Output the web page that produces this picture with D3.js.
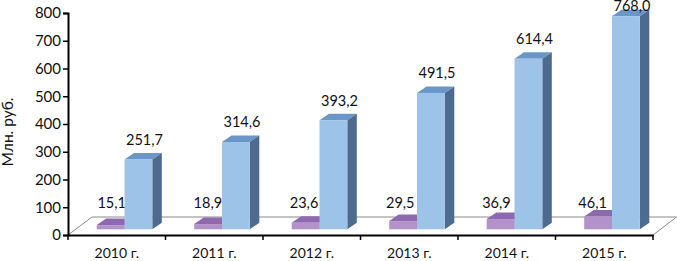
<!DOCTYPE html>
<html>
<head>
<meta charset="utf-8">
<script src="https://cdn.jsdelivr.net/npm/d3@7/dist/d3.min.js"></script>
<style>
  html, body { margin: 0; padding: 0; background: #fff; }
  svg { display: block; }
  text { font-family: Lato, "Open Sans", sans-serif; fill: #111; }
</style>
</head>
<body>
<svg width="677" height="261"></svg>
<script>
var categories = ["2010 г.", "2011 г.", "2012 г.", "2013 г.", "2014 г.", "2015 г."];
var seriesNames = ["small", "large"];
var smallValues = [15.1, 18.9, 23.6, 29.5, 36.9, 46.1];
var largeValues = [251.7, 314.6, 393.2, 491.5, 614.4, 768.0];
var yTicks = [0, 100, 200, 300, 400, 500, 600, 700, 800];

var svg = d3.select("svg");
var plotLeft = 68, plotRight = 653, plotTop = 13, plotBottom = 235;
var depthX = 9.5, depthY = 6.5;   // bar depth
var wallX = 24, wallY = 18;       // floor depth
var liftY = 5.7;                  // bars stand a bit behind the front edge

var colors = {
  small: { front: "#b392cc", top: "#8f69b0", side: "#7a5a99" },
  large: { front: "#9dc4e8", top: "#6a96c8", side: "#4d6b8e" }
};

var x = d3.scaleBand().domain(categories).range([plotLeft, plotRight]);
var xInner = d3.scaleBand().domain(seriesNames).range([28.7, 84.3]);
var y = d3.scaleLinear().domain([0, 800]).range([plotBottom, plotTop]);
// the small labels sit on one line and step a little tighter than the bars
var xSmallLabel = d3.scalePoint().domain(categories).range([111.7, 592.6]);
var comma = d3.formatLocale({ decimal: ",", thousands: " ", grouping: [3], currency: ["", ""] }).format(".1f");

// floor
svg.append("path")
  .attr("d", d3.line()([[plotLeft, plotBottom], [plotLeft + wallX, plotBottom - wallY], [plotRight + wallX - 0.5, plotBottom - wallY], [plotRight, plotBottom]]))
  .attr("fill", "#fff")
  .attr("stroke", "#8a8a8a")
  .attr("stroke-width", 1);

function drawSeries(name, values) {
  var c = colors[name];
  var g = svg.append("g").attr("class", "series-" + name);
  var bars = g.selectAll("g")
    .data(categories.map(function(d, i) { return { cat: d, value: values[i] }; }))
    .enter().append("g");

  function x0(d) { return x(d.cat) + xInner(name); }
  function x1(d) { return x0(d) + xInner.bandwidth(); }
  function yTop(d) { return y(d.value) - liftY; }
  var yBase = y(0) - liftY;

  bars.append("path")
    .attr("fill", c.top)
    .attr("d", function(d) {
      return d3.line()([[x0(d), yTop(d)], [x0(d) + depthX, yTop(d) - depthY], [x1(d) + depthX, yTop(d) - depthY], [x1(d), yTop(d)]]) + "Z";
    });
  bars.append("path")
    .attr("fill", c.side)
    .attr("d", function(d) {
      return d3.line()([[x1(d), yTop(d)], [x1(d) + depthX, yTop(d) - depthY], [x1(d) + depthX, yBase - depthY], [x1(d), yBase]]) + "Z";
    });
  bars.append("rect")
    .attr("fill", c.front)
    .attr("x", x0)
    .attr("y", yTop)
    .attr("width", xInner.bandwidth())
    .attr("height", function(d) { return yBase - yTop(d); });
  bars.append("text")
    .attr("x", function(d) { return name == "small" ? xSmallLabel(d.cat) : x0(d) + 20; })
    .attr("y", function(d) {
      if (name == "small") return y(100) + 1;
      return Math.max(11, yTop(d) - depthY - 8);   // top label is held inside the picture
    })
    .attr("text-anchor", "middle")
    .attr("font-size", 14.5)
    .text(function(d) { return comma(d.value); });
}
drawSeries("small", smallValues);
drawSeries("large", largeValues);

// axes
var yAxis = svg.append("g")
  .attr("transform", "translate(" + plotLeft + ",0)")
  .call(d3.axisLeft(y).tickValues(yTicks).tickSize(5).tickPadding(2));
yAxis.selectAll("text").attr("font-size", 15);

var xAxis = svg.append("g")
  .attr("transform", "translate(0," + plotBottom + ")")
  .call(d3.axisBottom(x).tickSize(0).tickPadding(13));
xAxis.selectAll("text").attr("font-size", 14);
xAxis.selectAll(".edge")
  .data(categories.concat(["end"]))
  .enter().append("line")
  .attr("class", "edge")
  .attr("x1", function(d) { return d == "end" ? plotRight : x(d); })
  .attr("x2", function(d) { return d == "end" ? plotRight : x(d); })
  .attr("y1", 0)
  .attr("y2", 5)
  .attr("stroke", "#000")
  .attr("stroke-width", 1.5);

svg.selectAll(".domain").attr("stroke", "#000").attr("stroke-width", 2);
svg.selectAll(".tick line").attr("stroke", "#000").attr("stroke-width", 1.5);
svg.selectAll(".tick text").attr("fill", "#111").attr("font-family", "Lato");

svg.append("text")
  .attr("transform", "translate(13,132) rotate(-90)")
  .attr("text-anchor", "middle")
  .attr("font-size", 15.5)
  .text("Млн. руб.");
</script>
</body>
</html>
